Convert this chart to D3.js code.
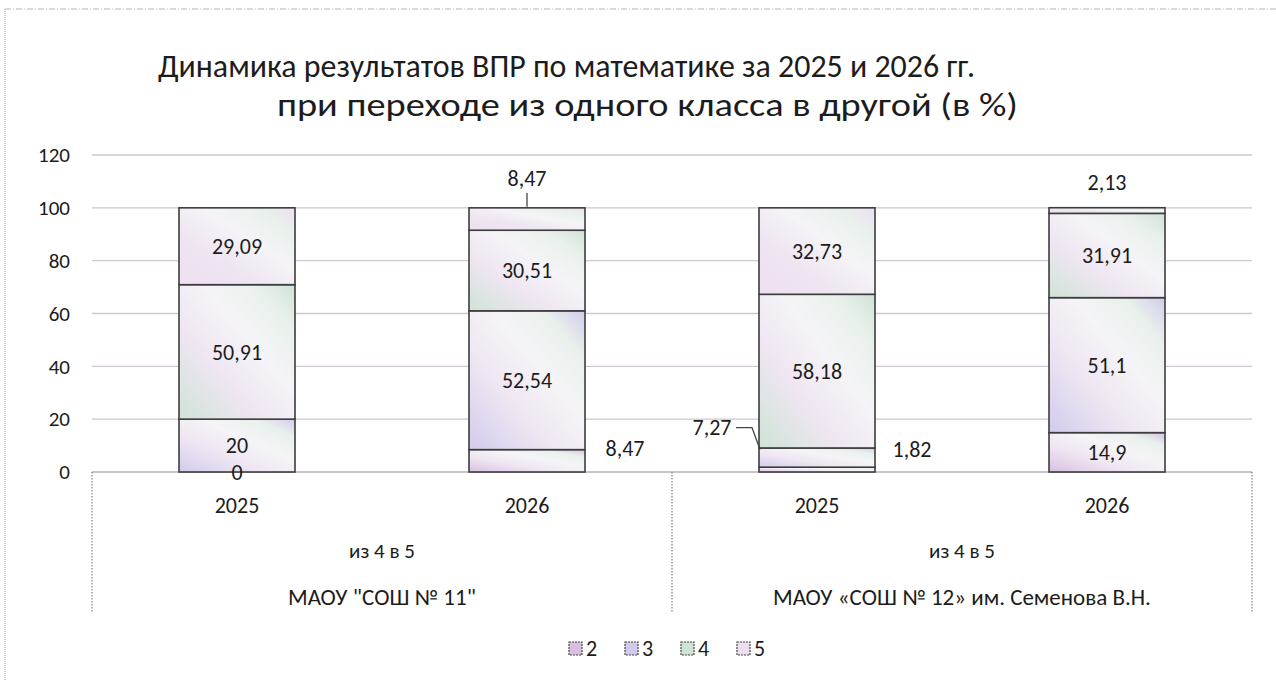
<!DOCTYPE html>
<html><head><meta charset="utf-8">
<script src="https://cdn.jsdelivr.net/npm/d3@7"></script>
<style>
body{margin:0;background:#fff}
svg{display:block}
text{font-family:Carlito,Lato,"Open Sans",sans-serif;fill:#1c1c1c}
</style>
</head><body>
<svg id="c" width="1276" height="681"></svg>
<script>
// ---- data ----
const categories = ["2025", "2026", "2025", "2026"];
const subgroups = ["из 4 в 5", "из 4 в 5"];
const groups = ['МАОУ "СОШ № 11"', "МАОУ «СОШ № 12» им. Семенова В.Н."];
const seriesNames = ["2", "3", "4", "5"];
const s2 = [0, 8.47, 1.82, 14.9];
const s3 = [20, 52.54, 7.27, 51.1];
const s4 = [50.91, 30.51, 58.18, 31.91];
const s5 = [29.09, 8.47, 32.73, 2.13];
const yTicks = [0, 20, 40, 60, 80, 100, 120];
const titleLines = ["Динамика результатов ВПР по математике за 2025 и 2026 гг.",
                    "при переходе из одного класса в другой (в %)"];

// ---- label layout tweaks (moved small-segment labels) ----
const labelMoves = [
  {series: "5", cat: 1, dx: 0, dy: -41, leader: "up"},
  {series: "2", cat: 1, dx: 98, dy: -13},
  {series: "2", cat: 2, dx: 95, dy: -20},
  {series: "3", cat: 2, dx: -105, dy: -30, leader: "left"},
  {series: "5", cat: 3, dx: 0, dy: -28}
];

const svg = d3.select("#c");
const W = 1276, H = 681;
const M = {left: 92, right: 1252, top: 155, bottom: 472};

// scan border
svg.append("line").attr("x1", 5).attr("x2", W).attr("y1", 9).attr("y2", 9)
  .attr("stroke", "#b5b5b5").attr("stroke-width", 1.2).attr("stroke-dasharray", "6,2,1,2");
svg.append("line").attr("x1", 5).attr("x2", 5).attr("y1", 9).attr("y2", H)
  .attr("stroke", "#b5b5b5").attr("stroke-width", 1.2).attr("stroke-dasharray", "1,1");

// gradients
const defs = svg.append("defs");
const seriesColors = {"2": "#d9c0e2", "3": "#d2cbec", "4": "#cfe3d6", "5": "#eddff0"};
seriesNames.forEach(s => {
  const g = defs.append("linearGradient").attr("id", "g" + s)
    .attr("x1", "0").attr("y1", "1").attr("x2", "1").attr("y2", "0");
  const c = seriesColors[s];
  g.append("stop").attr("offset", "0%").attr("stop-color", c);
  g.append("stop").attr("offset", "35%").attr("stop-color", "#efe6f2");
  g.append("stop").attr("offset", "60%").attr("stop-color", "#f5f4f7");
  g.append("stop").attr("offset", "82%").attr("stop-color", "#e9f1ec");
  g.append("stop").attr("offset", "100%").attr("stop-color", c);
});

const x = d3.scaleBand().domain(d3.range(categories.length))
  .range([M.left, M.right]).paddingInner(0.6).paddingOuter(0.3);
const y = d3.scaleLinear().domain([0, 120]).range([M.bottom, M.top]);

// gridlines
svg.append("g").selectAll("line").data(yTicks).join("line")
  .attr("x1", M.left).attr("x2", M.right)
  .attr("y1", d => y(d)).attr("y2", d => y(d))
  .attr("stroke", d => d === 0 ? "#b9aebb" : "#cfc6d1").attr("stroke-width", 1.3);

// y axis labels
const yAxis = d3.axisLeft(y).tickValues(yTicks).tickSize(0).tickPadding(0);
const ya = svg.append("g").attr("transform", `translate(70,0)`).call(yAxis);
ya.select(".domain").remove();
ya.selectAll("text").style("font-size", "21px").attr("fill", "#1c1c1c")
  .style("font-family", "Carlito,Lato,sans-serif");

// stacked bars
const rows = categories.map((c, i) => ({i, "2": s2[i], "3": s3[i], "4": s4[i], "5": s5[i]}));
const stacked = d3.stack().keys(seriesNames)(rows);

const bars = svg.append("g");
stacked.forEach(layer => {
  bars.append("g").selectAll("rect").data(layer).join("rect")
    .attr("x", d => x(d.data.i))
    .attr("width", x.bandwidth())
    .attr("y", d => y(d[1]))
    .attr("height", d => y(d[0]) - y(d[1]))
    .attr("fill", `url(#g${layer.key})`)
    .attr("stroke", "#3d3d3d").attr("stroke-width", 1.6);
});

// data labels
const fmt = v => String(v).replace(".", ",");
const lbl = svg.append("g");
stacked.forEach(layer => {
  layer.forEach(d => {
    const i = d.data.i;
    const v = d.data[layer.key];
    const cx = x(i) + x.bandwidth() / 2;
    const cy = y((d[0] + d[1]) / 2);
    const mv = labelMoves.find(m => m.series === layer.key && m.cat === i);
    const tx = cx + (mv ? mv.dx : 0), ty = cy + (mv ? mv.dy : 0);
    lbl.append("text").attr("x", tx).attr("y", ty).attr("dy", "0.35em")
      .attr("text-anchor", "middle").style("font-size", "22px").text(fmt(v));
    if (mv && mv.leader === "up") {
      lbl.append("line").attr("x1", cx).attr("x2", cx)
        .attr("y1", ty + 15).attr("y2", y(d[1]) - 1)
        .attr("stroke", "#444").attr("stroke-width", 1.3);
    }
    if (mv && mv.leader === "left") {
      lbl.append("path")
        .attr("d", `M${tx + 24},${ty} L${tx + 40},${ty} L${x(i) + 1},${cy - 8}`)
        .attr("fill", "none").attr("stroke", "#444").attr("stroke-width", 1.3);
    }
  });
});

// category axis (multi-level)
const cat = svg.append("g");
cat.selectAll("text.yr").data(categories).join("text")
  .attr("x", (d, i) => x(i) + x.bandwidth() / 2).attr("y", 505).attr("dy", "0.35em")
  .attr("text-anchor", "middle").style("font-size", "22px").text(d => d);
const gStep = (M.right - M.left) / groups.length;
cat.selectAll("text.sg").data(subgroups).join("text")
  .attr("x", (d, i) => M.left + gStep * (i + 0.5)).attr("y", 551).attr("dy", "0.35em")
  .attr("text-anchor", "middle").style("font-size", "21px").text(d => d);
cat.selectAll("text.gr").data(groups).join("text")
  .attr("x", (d, i) => M.left + gStep * (i + 0.5)).attr("y", 597).attr("dy", "0.35em")
  .attr("text-anchor", "middle").style("font-size", "23px").text(d => d);
cat.selectAll("line").data(d3.range(groups.length + 1)).join("line")
  .attr("x1", i => M.left + gStep * i).attr("x2", i => M.left + gStep * i)
  .attr("y1", M.bottom).attr("y2", 613)
  .attr("stroke", "#8a8a8a").attr("stroke-width", 1.3).attr("stroke-dasharray", "1.5,1.5");

// title
const titleSpec = [{x: 158, y: 77, w: 817}, {x: 277, y: 116, w: 741}];
titleLines.forEach((t, k) => {
  svg.append("text").attr("x", titleSpec[k].x).attr("y", titleSpec[k].y)
    .attr("textLength", titleSpec[k].w).attr("lengthAdjust", "spacingAndGlyphs")
    .style("font-size", "32px").attr("fill", "#1c1c1c").text(t);
});

// legend
const leg = svg.append("g");
const legX0 = 569, legStep = 56, legY = 648;
seriesNames.forEach((s, k) => {
  const gx = legX0 + k * legStep;
  leg.append("rect").attr("x", gx).attr("y", legY - 6).attr("width", 13).attr("height", 13)
    .attr("fill", seriesColors[s]).attr("stroke", "#444").attr("stroke-width", 1.2)
    .attr("stroke-dasharray", "2,1");
  leg.append("text").attr("x", gx + 17).attr("y", legY).attr("dy", "0.36em")
    .style("font-size", "22px").text(s);
});
</script>
</body></html>
